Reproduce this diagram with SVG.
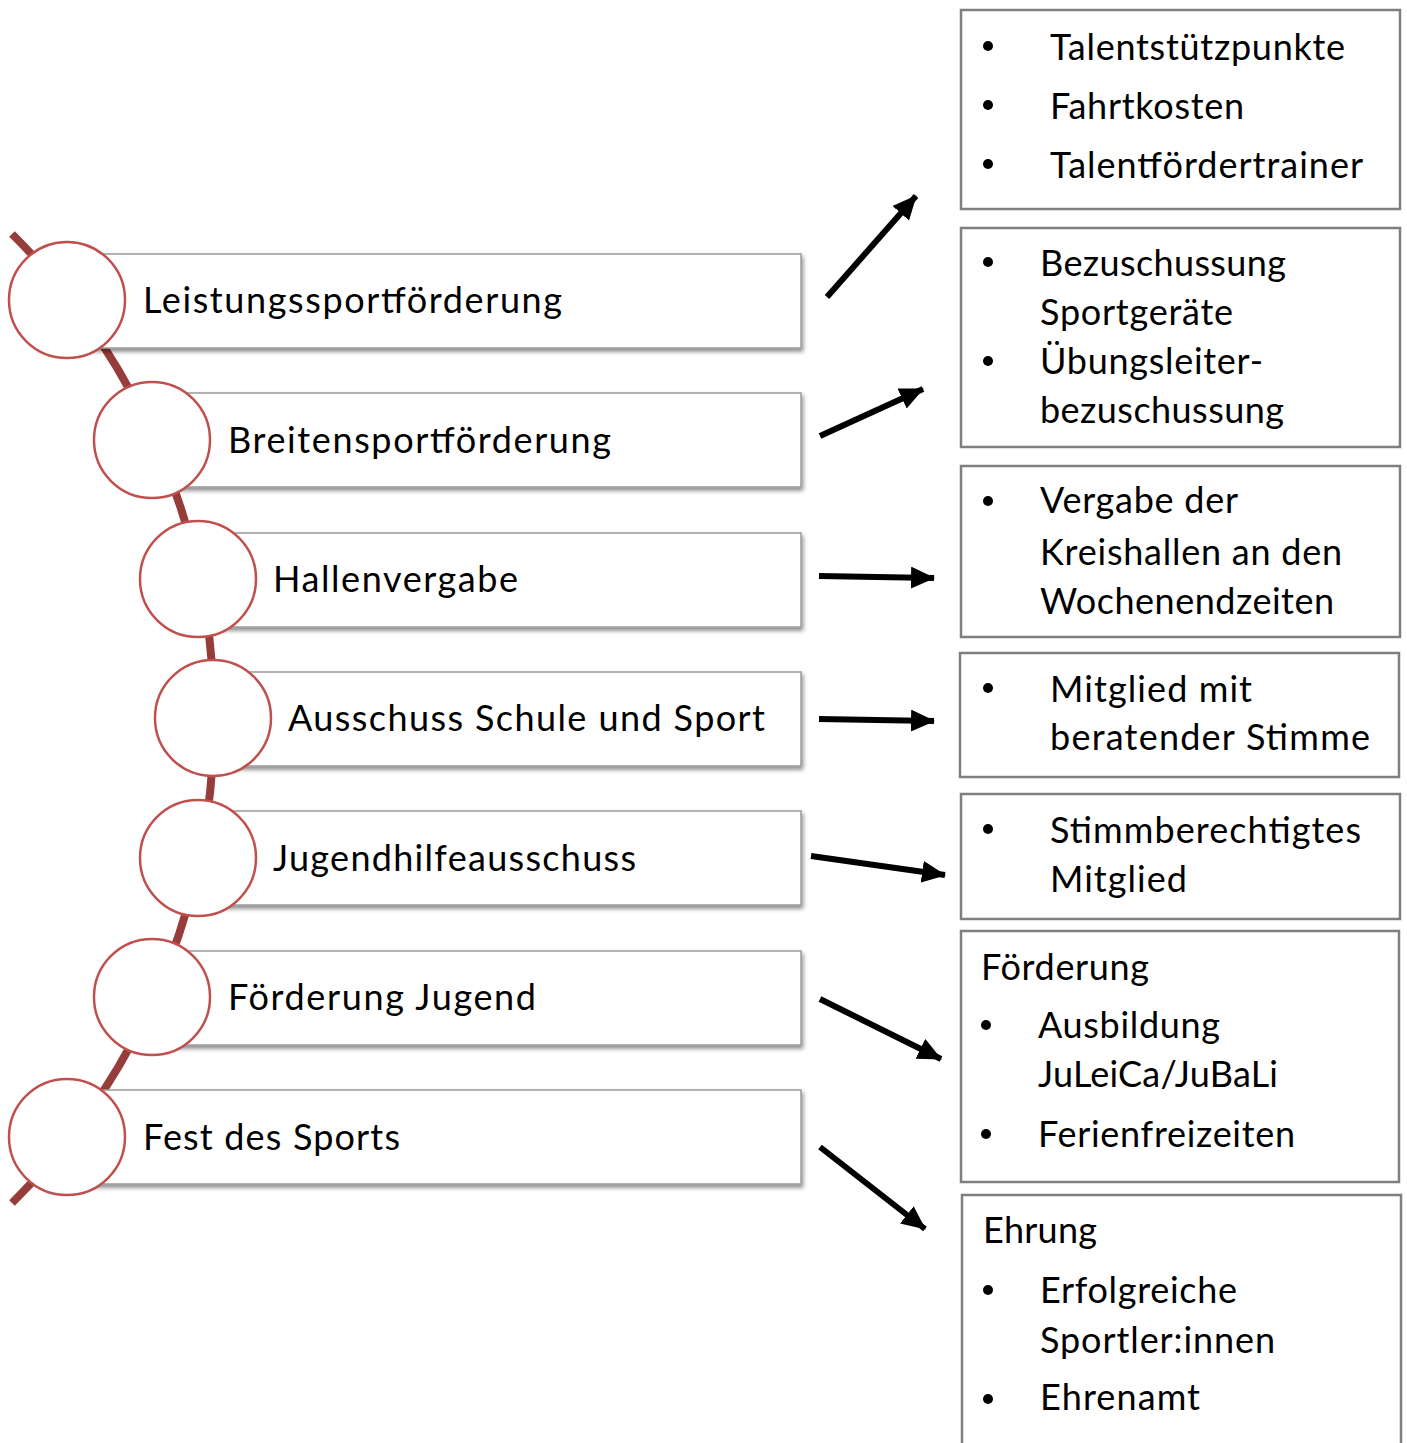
<svg xmlns="http://www.w3.org/2000/svg" width="1407" height="1443" viewBox="0 0 1407 1443">
<defs>
<filter id="sh" x="-5%" y="-20%" width="115%" height="150%">
<feDropShadow dx="1.5" dy="3" stdDeviation="2" flood-color="#000" flood-opacity="0.45"/>
</filter>
<marker id="ah" viewBox="0 0 24 22" refX="23" refY="11" markerWidth="24" markerHeight="22" orient="auto" markerUnits="userSpaceOnUse">
<path d="M0,0 L24,11 L0,22 Z" fill="#000"/>
</marker>
<style>
text{font-family:Lato,"Open Sans","Liberation Sans",sans-serif;font-size:36px;fill:#000}
.bar{fill:#fff;stroke:#9a9a9a;stroke-width:1.5;filter:url(#sh)}
.ring{fill:#fff;stroke:#c0504d;stroke-width:2.5}
.box{fill:#fff;stroke:#7f7f7f;stroke-width:2.5}
.dot{fill:#000}
.arr{stroke:#000;stroke-width:6;fill:none;marker-end:url(#ah)}
</style>
</defs>
<rect width="1407" height="1443" fill="#fff"/>
<path d="M 12 234 A 682 682 0 0 1 12 1203" fill="none" stroke="#963c3a" stroke-width="8"/>

<g id="n1"><rect class="bar" x="67" y="254" width="734" height="94"/><circle class="ring" cx="67" cy="300" r="58"/><text x="143" y="313" textLength="419">Leistungssportförderung</text></g>
<g id="n2"><rect class="bar" x="152" y="393" width="649" height="94"/><circle class="ring" cx="152" cy="440" r="58"/><text x="228" y="453" textLength="383">Breitensportförderung</text></g>
<g id="n3"><rect class="bar" x="198" y="533" width="603" height="94"/><circle class="ring" cx="198" cy="579" r="58"/><text x="273" y="592" textLength="245">Hallenvergabe</text></g>
<g id="n4"><rect class="bar" x="213" y="672" width="588" height="94"/><circle class="ring" cx="213" cy="718" r="58"/><text x="288" y="731" textLength="477">Ausschuss Schule und Sport</text></g>
<g id="n5"><rect class="bar" x="198" y="811" width="603" height="94"/><circle class="ring" cx="198" cy="858" r="58"/><text x="273" y="871" textLength="363">Jugendhilfeausschuss</text></g>
<g id="n6"><rect class="bar" x="152" y="951" width="649" height="94"/><circle class="ring" cx="152" cy="997" r="58"/><text x="228" y="1010" textLength="308">Förderung Jugend</text></g>
<g id="n7"><rect class="bar" x="67" y="1090" width="734" height="94"/><circle class="ring" cx="67" cy="1137" r="58"/><text x="143" y="1150" textLength="257">Fest des Sports</text></g>

<g id="b1"><rect class="box" x="961" y="10" width="439" height="199"/>
<circle class="dot" cx="988" cy="46" r="5"/><circle class="dot" cx="988" cy="105" r="5"/><circle class="dot" cx="988" cy="164" r="5"/>
<text x="1050" y="60" textLength="295">Talentstützpunkte</text><text x="1050" y="119" textLength="194">Fahrtkosten</text><text x="1050" y="178" textLength="313">Talentfördertrainer</text></g>
<g id="b2"><rect class="box" x="961" y="228" width="439" height="219"/>
<circle class="dot" cx="988" cy="262" r="5"/><circle class="dot" cx="988" cy="361" r="5"/>
<text x="1040" y="276" textLength="246">Bezuschussung</text><text x="1040" y="325" textLength="193">Sportgeräte</text><text x="1040" y="374" textLength="223">Übungsleiter-</text><text x="1040" y="423" textLength="244">bezuschussung</text></g>
<g id="b3"><rect class="box" x="961" y="466" width="439" height="171"/>
<circle class="dot" cx="988" cy="501" r="5"/>
<text x="1040" y="513" textLength="198">Vergabe der</text><text x="1040" y="565" textLength="302">Kreishallen an den</text><text x="1040" y="614" textLength="294">Wochenendzeiten</text></g>
<g id="b4"><rect class="box" x="960" y="653" width="439" height="124"/>
<circle class="dot" cx="988" cy="688" r="5"/>
<text x="1050" y="702" textLength="202">Mitglied mit</text><text x="1050" y="750" textLength="320">beratender Stimme</text></g>
<g id="b5"><rect class="box" x="961" y="794" width="439" height="125"/>
<circle class="dot" cx="988" cy="829" r="5"/>
<text x="1050" y="843" textLength="311">Stimmberechtigtes</text><text x="1050" y="892" textLength="137">Mitglied</text></g>
<g id="b6"><rect class="box" x="961" y="931" width="438" height="251"/>
<circle class="dot" cx="986" cy="1025" r="5"/><circle class="dot" cx="986" cy="1134" r="5"/>
<text x="981" y="980" textLength="168">Förderung</text><text x="1038" y="1038" textLength="182">Ausbildung</text><text x="1038" y="1087" textLength="240">JuLeiCa/JuBaLi</text><text x="1038" y="1147" textLength="257">Ferienfreizeiten</text></g>
<g id="b7"><rect class="box" x="962" y="1195" width="439" height="270"/>
<circle class="dot" cx="988" cy="1290" r="5"/><circle class="dot" cx="988" cy="1399" r="5"/>
<text x="983" y="1243" textLength="114">Ehrung</text><text x="1040" y="1303" textLength="197">Erfolgreiche</text><text x="1040" y="1353" textLength="235">Sportler:innen</text><text x="1040" y="1410" textLength="160">Ehrenamt</text></g>

<g id="connectors">
<line class="arr" x1="827" y1="297" x2="916" y2="196"/>
<line class="arr" x1="820" y1="436" x2="923" y2="389"/>
<line class="arr" x1="819" y1="576" x2="934" y2="578"/>
<line class="arr" x1="819" y1="719" x2="934" y2="721"/>
<line class="arr" x1="811" y1="856" x2="945" y2="875"/>
<line class="arr" x1="820" y1="999" x2="941" y2="1059"/>
<line class="arr" x1="820" y1="1147" x2="925" y2="1229"/>
</g>
</svg>
